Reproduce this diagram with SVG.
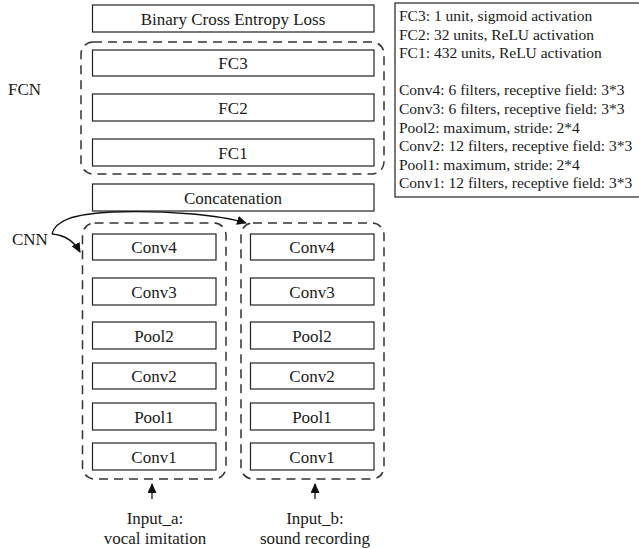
<svg xmlns="http://www.w3.org/2000/svg" width="639" height="548" viewBox="0 0 639 548">
<style>
text{font-family:"Liberation Serif","Times New Roman",serif;fill:#1a1a1a}
.lbl{font-size:17px;text-anchor:middle}
.side{font-size:17px}
.leg{font-size:15.5px}
.box{fill:#fff;stroke:#222;stroke-width:1.2}
.dash{fill:none;stroke:#333;stroke-width:1.5;stroke-dasharray:9 6}
.conn{fill:none;stroke:#111;stroke-width:1.3}
</style>
<defs>
<marker id="ah" viewBox="0 0 10 10" refX="9" refY="5" markerWidth="10" markerHeight="9" markerUnits="userSpaceOnUse" orient="auto" preserveAspectRatio="none">
<path d="M0,0 L10,5 L0,10 Z" fill="#111"/>
</marker>
</defs>
<rect width="639" height="548" fill="#fff"/>

<g id="fcn-group">
<rect class="dash" x="81" y="42" width="303" height="132" rx="12"/>
<text class="side" x="8" y="95">FCN</text>
</g>
<g id="cnn-a">
<rect class="dash" x="82.5" y="223" width="143.5" height="256" rx="12"/>
</g>
<g id="cnn-b">
<rect class="dash" x="241" y="223" width="143" height="256" rx="12"/>
</g>
<g id="cnn-label"><text class="side" x="12" y="245">CNN</text></g>

<g id="bce"><rect class="box" x="92.5" y="5" width="281.5" height="27"/><text class="lbl" x="233" y="24.5">Binary Cross Entropy Loss</text></g>
<g id="fc3"><rect class="box" x="92.5" y="50" width="281.5" height="26"/><text class="lbl" x="233" y="69">FC3</text></g>
<g id="fc2"><rect class="box" x="92.5" y="94" width="281.5" height="27"/><text class="lbl" x="233" y="113.5">FC2</text></g>
<g id="fc1"><rect class="box" x="92.5" y="139" width="281.5" height="27"/><text class="lbl" x="233" y="158.5">FC1</text></g>
<g id="concat"><rect class="box" x="92.5" y="184" width="281.5" height="27"/><text class="lbl" x="233" y="203.5">Concatenation</text></g>

<g id="a-conv4"><rect class="box" x="92.5" y="234" width="123.5" height="26"/><text class="lbl" x="154" y="253">Conv4</text></g>
<g id="a-conv3"><rect class="box" x="92.5" y="278" width="123.5" height="27"/><text class="lbl" x="154" y="297.5">Conv3</text></g>
<g id="a-pool2"><rect class="box" x="92.5" y="322" width="123.5" height="27"/><text class="lbl" x="154" y="341.5">Pool2</text></g>
<g id="a-conv2"><rect class="box" x="92.5" y="363" width="123.5" height="26"/><text class="lbl" x="154" y="382">Conv2</text></g>
<g id="a-pool1"><rect class="box" x="92.5" y="403" width="123.5" height="27"/><text class="lbl" x="154" y="422.5">Pool1</text></g>
<g id="a-conv1"><rect class="box" x="92.5" y="443" width="123.5" height="27"/><text class="lbl" x="154" y="462.5">Conv1</text></g>

<g id="b-conv4"><rect class="box" x="250.5" y="234" width="123.5" height="26"/><text class="lbl" x="312" y="253">Conv4</text></g>
<g id="b-conv3"><rect class="box" x="250.5" y="278" width="123.5" height="27"/><text class="lbl" x="312" y="297.5">Conv3</text></g>
<g id="b-pool2"><rect class="box" x="250.5" y="322" width="123.5" height="27"/><text class="lbl" x="312" y="341.5">Pool2</text></g>
<g id="b-conv2"><rect class="box" x="250.5" y="363" width="123.5" height="26"/><text class="lbl" x="312" y="382">Conv2</text></g>
<g id="b-pool1"><rect class="box" x="250.5" y="403" width="123.5" height="27"/><text class="lbl" x="312" y="422.5">Pool1</text></g>
<g id="b-conv1"><rect class="box" x="250.5" y="443" width="123.5" height="27"/><text class="lbl" x="312" y="462.5">Conv1</text></g>

<g id="input-a"><text class="lbl" x="155" y="524">Input_a:</text><text class="lbl" x="155" y="544">vocal imitation</text></g>
<g id="input-b"><text class="lbl" x="315" y="524">Input_b:</text><text class="lbl" x="315" y="544">sound recording</text></g>

<g id="legend">
<rect x="395" y="3" width="250" height="194" fill="#fff" stroke="#222" stroke-width="1.2"/>
<text class="leg" x="399" y="21">FC3: 1 unit, sigmoid activation</text>
<text class="leg" x="399" y="39.6">FC2: 32 units, ReLU activation</text>
<text class="leg" x="399" y="58.2">FC1: 432 units, ReLU activation</text>
<text class="leg" x="399" y="95.4">Conv4: 6 filters, receptive field: 3*3</text>
<text class="leg" x="399" y="114">Conv3: 6 filters, receptive field: 3*3</text>
<text class="leg" x="399" y="132.6">Pool2: maximum, stride: 2*4</text>
<text class="leg" x="399" y="151.2">Conv2: 12 filters, receptive field: 3*3</text>
<text class="leg" x="399" y="169.8">Pool1: maximum, stride: 2*4</text>
<text class="leg" x="399" y="188.4">Conv1: 12 filters, receptive field: 3*3</text>
</g>

<g id="connectors">
<path class="conn" d="M52,234 C55,221 72,214 112,212 C165,210 220,215 246,223" marker-end="url(#ah)"/>
<path class="conn" d="M52,234 C64,235 74,241 80,252" marker-end="url(#ah)"/>
<path class="conn" d="M152,499 L152,484" marker-end="url(#ah)"/>
<path class="conn" d="M315,499 L315,484" marker-end="url(#ah)"/>
</g>
</svg>
